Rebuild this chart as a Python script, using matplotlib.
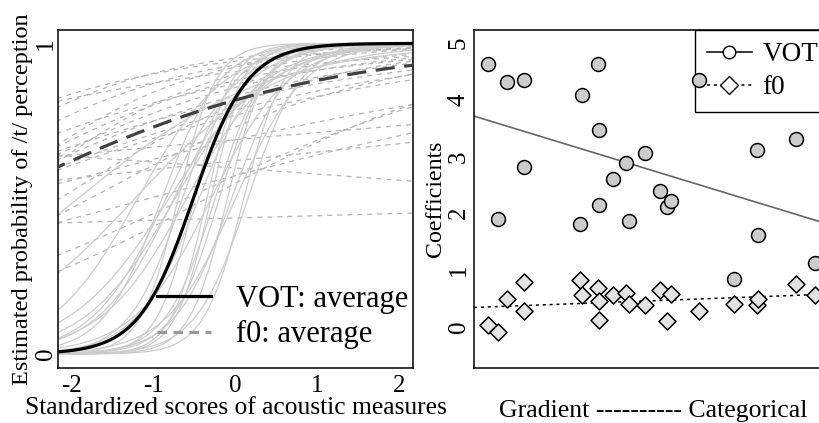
import matplotlib
matplotlib.use("Agg")
import matplotlib.pyplot as plt
import numpy as np
from matplotlib.lines import Line2D

plt.rcParams['font.family'] = ['Liberation Serif', 'DejaVu Serif']
plt.rcParams['axes.unicode_minus'] = False

# === данные по слушателям (порядок: от градиентных к категориальным) ===
categ_x = [0.137, 0.243, 0.33, 0.503, 0.503, 1.06, 1.077, 1.237, 1.25, 1.25,
           1.393, 1.52, 1.55, 1.71, 1.86, 1.927, 1.97, 2.247, 2.60, 2.827,
           2.843, 3.22, 3.41]
vot_coef = [4.62, 1.90, 4.31, 4.35, 2.82, 1.81, 4.08, 4.62, 3.46, 2.14,
            2.61, 2.88, 1.86, 3.06, 2.39, 2.11, 2.22, 4.35, 0.85, 3.11,
            1.62, 3.31, 1.12]
f0_coef = [0.03, -0.08, 0.50, 0.79, 0.28, 0.82, 0.56, 0.69, 0.46, 0.12,
           0.56, 0.60, 0.41, 0.38, 0.65, 0.11, 0.58, 0.28, 0.40, 0.38,
           0.49, 0.76, 0.56]
# интерсепты индивидуальных логистических кривых
vot_int = [1.39, 1.14, 0.43, 2.18, 2.54, 1.34, -0.41, 1.62, 0.69, 1.61,
           1.17, 0.14, 2.23, 1.99, 0.0, 0.63, 1.89, 3.05, 1.64, -0.47,
           1.32, 0.83, 1.38]
f0_int = [-0.25, 0.40, 1.6, 2.2, 0.8, 2.5, 1.0, 2.6, 1.9, 0.5,
          0.2, 2.0, 1.3, 2.3, 1.4, 0.8, 2.8, 0.3, 1.5, 1.2,
          0.3, 3.0, 1.8]
# средние кривые (интерсепт, наклон)
vot_avg = (1.55, 3.0)
f0_avg = (1.5, 0.5)

z_ticks = [-2, -1, 0, 1, 2]
coef_ticks = [0, 1, 2, 3, 4, 5]


def logistic(b0, b1, x):
    return 1.0 / (1.0 + np.exp(-(b0 + b1 * x)))


fig = plt.figure(figsize=(8.2, 4.23), dpi=100)
ax1 = fig.add_axes([58 / 820, 55 / 423, 355 / 820, 338 / 423])
ax2 = fig.add_axes([474 / 820, 55 / 423, 358 / 820, 338 / 423])

# === левая панель: кривые восприятия ===
zz = np.linspace(-2.3, 2.3, 300)
for b0, b1 in zip(f0_int, f0_coef):
    ax1.plot(zz, logistic(b0, b1, zz), color='#b4b4b4', lw=0.9,
             linestyle=(0, (4, 4)), zorder=1)
for b0, b1 in zip(vot_int, vot_coef):
    ax1.plot(zz, logistic(b0, b1, zz), color='#cccccc', lw=0.9, zorder=2)
ax1.plot(zz, logistic(*vot_avg, zz), color='black', lw=2.3, zorder=4)
ax1.plot(zz, logistic(*f0_avg, zz), color='#404040', lw=2.3,
         linestyle=(0, (6, 3)), zorder=3)

ax1.set_xlim(-2.17, 2.17)
ax1.set_ylim(-0.045, 1.043)
ax1.set_xticks(z_ticks)
ax1.set_xticklabels([str(t) for t in z_ticks])
ax1.set_yticks([0, 1])
ax1.set_yticklabels(['0', '1'], rotation=90, va='center')
ax1.tick_params(axis='x', length=0, labelsize=18, pad=5)
ax1.tick_params(axis='y', length=0, labelsize=18, pad=1)
ax1.set_xlabel('Standardized scores of acoustic measures', fontsize=18.4, labelpad=0)
ax1.set_ylabel('Estimated probability of /t/ perception', fontsize=17.5, labelpad=1)

h1 = [Line2D([], [], color='black', lw=2.3),
      Line2D([], [], color='#999999', lw=2.3, linestyle=(0, (3, 2)))]
ax1.legend(h1, ['VOT: average', 'f0: average'], loc='lower left',
           bbox_to_anchor=(0.279, 0.055), frameon=False, fontsize=22,
           handlelength=1.75, handletextpad=0.85, labelspacing=0.22,
           borderpad=0, borderaxespad=0)

# === правая панель: коэффициенты ===
ax2.scatter(categ_x, vot_coef, s=100, facecolor='#cccccc', edgecolor='black',
            linewidth=1.1, zorder=3)
ax2.scatter(categ_x, f0_coef, s=75, marker='D', facecolor='#e3e3e3',
            edgecolor='black', linewidth=1.1, zorder=3)

xl = np.array([0.0, 3.58])
k_vot = np.polyfit(categ_x, vot_coef, 1)
k_f0 = np.polyfit(categ_x, f0_coef, 1)
ax2.plot(xl, np.polyval(k_vot, xl), color='#666666', lw=1.2, zorder=2)
ax2.plot(xl, np.polyval(k_f0, xl), color='black', lw=1.1,
         linestyle=(0, (2, 2.5)), zorder=2)

ax2.set_xlim(xl)
ax2.set_ylim(-0.72, 5.22)
ax2.set_xticks([])
ax2.set_yticks(coef_ticks)
ax2.set_yticklabels([str(t) for t in coef_ticks], rotation=90, va='center')
ax2.tick_params(length=0, labelsize=18, pad=3)
ax2.set_xlabel('Gradient ---------- Categorical', fontsize=18.5, labelpad=23)
ax2.set_ylabel('Coefficients', fontsize=17.2, labelpad=1)

h2 = [Line2D([], [], color='black', lw=1.1, marker='o', markersize=9,
             markerfacecolor='white', markeredgecolor='black'),
      Line2D([], [], color='black', lw=1.1, linestyle=(0, (2, 2.5)), marker='D',
             markersize=9, markerfacecolor='white', markeredgecolor='black')]
leg = ax2.legend(h2, ['VOT', 'f0'], loc='upper right', bbox_to_anchor=(0.996, 1.0),
                 fontsize=19.5, frameon=True, fancybox=False, framealpha=1,
                 edgecolor='black', handlelength=1.65, handletextpad=0.4,
                 labelspacing=0.3, borderpad=0.45, borderaxespad=0)
leg.get_frame().set_linewidth(1.0)
leg.set_zorder(2.5)  # точки рисуются поверх рамки легенды

for ax in (ax1, ax2):
    for sp in ax.spines.values():
        sp.set_linewidth(1.1)

fig.savefig('out.png', dpi=100)
